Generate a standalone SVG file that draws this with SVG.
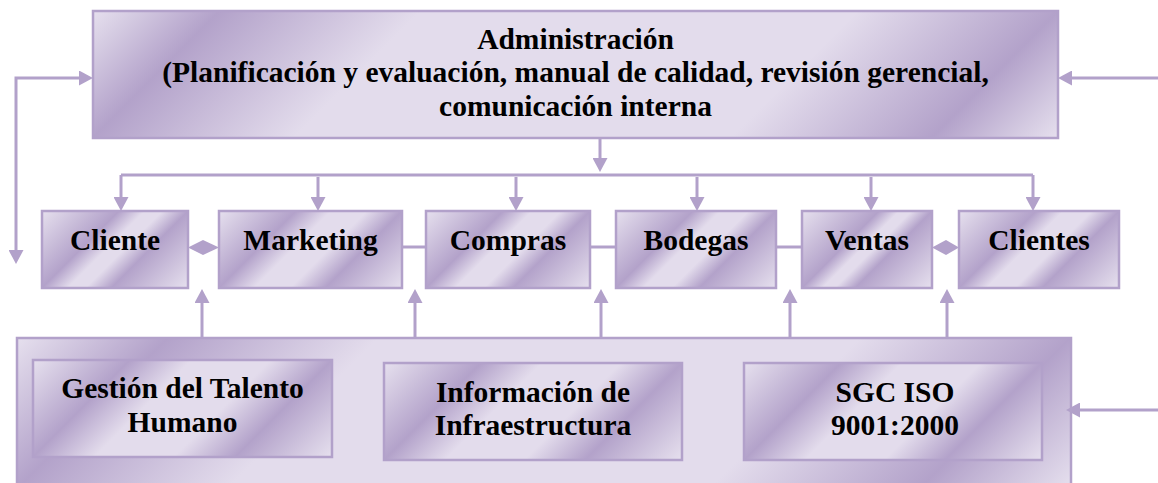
<svg xmlns="http://www.w3.org/2000/svg" width="1158" height="483" viewBox="0 0 1158 483">
<style>
.box{stroke:#b2a1ca;stroke-width:2.5}
.t{font-family:"Liberation Serif","DejaVu Serif","Times New Roman",serif;font-weight:bold;font-size:29.5px;fill:#000;text-anchor:middle}
.c{fill:none;stroke:#b2a1ca;stroke-width:3}
.a{marker-end:url(#ah)}
.d{fill:#b2a1ca}
</style>
<defs>
<marker id="ah" viewBox="0 0 14 15" refX="10" refY="7.5" markerWidth="14" markerHeight="15" markerUnits="userSpaceOnUse" orient="auto-start-reverse"><path d="M0,0 L14,7.5 L0,15 z" fill="#b2a1ca"/></marker>
<linearGradient id="gAdm" gradientUnits="userSpaceOnUse" x1="93" y1="11" x2="639" y2="557"><stop offset="0" stop-color="#e6e0ee"/><stop offset="0.116" stop-color="#b3a2ca"/><stop offset="0.3" stop-color="#e3dcec"/><stop offset="0.7" stop-color="#e3dcec"/><stop offset="0.884" stop-color="#b3a2ca"/><stop offset="1" stop-color="#e6e0ee"/></linearGradient>
<linearGradient id="gOut" gradientUnits="userSpaceOnUse" x1="17" y1="338" x2="619" y2="940"><stop offset="0" stop-color="#e6e0ee"/><stop offset="0.125" stop-color="#b3a2ca"/><stop offset="0.3" stop-color="#e3dcec"/><stop offset="0.7" stop-color="#e3dcec"/><stop offset="0.875" stop-color="#b3a2ca"/><stop offset="1" stop-color="#e6e0ee"/></linearGradient>
<linearGradient id="gCli" gradientUnits="userSpaceOnUse" x1="42" y1="211" x2="153.5" y2="322.5"><stop offset="0" stop-color="#e6e0ee"/><stop offset="0.345" stop-color="#b3a2ca"/><stop offset="0.46" stop-color="#e3dcec"/><stop offset="0.54" stop-color="#e3dcec"/><stop offset="0.655" stop-color="#b3a2ca"/><stop offset="1" stop-color="#e6e0ee"/></linearGradient>
<linearGradient id="gMkt" gradientUnits="userSpaceOnUse" x1="219" y1="211" x2="349" y2="341"><stop offset="0" stop-color="#e6e0ee"/><stop offset="0.296" stop-color="#b3a2ca"/><stop offset="0.43" stop-color="#e3dcec"/><stop offset="0.57" stop-color="#e3dcec"/><stop offset="0.704" stop-color="#b3a2ca"/><stop offset="1" stop-color="#e6e0ee"/></linearGradient>
<linearGradient id="gCom" gradientUnits="userSpaceOnUse" x1="426" y1="211" x2="546.5" y2="331.5"><stop offset="0" stop-color="#e6e0ee"/><stop offset="0.32" stop-color="#b3a2ca"/><stop offset="0.44" stop-color="#e3dcec"/><stop offset="0.56" stop-color="#e3dcec"/><stop offset="0.68" stop-color="#b3a2ca"/><stop offset="1" stop-color="#e6e0ee"/></linearGradient>
<linearGradient id="gBod" gradientUnits="userSpaceOnUse" x1="616" y1="211" x2="734.5" y2="329.5"><stop offset="0" stop-color="#e6e0ee"/><stop offset="0.325" stop-color="#b3a2ca"/><stop offset="0.44" stop-color="#e3dcec"/><stop offset="0.56" stop-color="#e3dcec"/><stop offset="0.675" stop-color="#b3a2ca"/><stop offset="1" stop-color="#e6e0ee"/></linearGradient>
<linearGradient id="gVen" gradientUnits="userSpaceOnUse" x1="802" y1="211" x2="905.5" y2="314.5"><stop offset="0" stop-color="#e6e0ee"/><stop offset="0.372" stop-color="#b3a2ca"/><stop offset="0.47" stop-color="#e3dcec"/><stop offset="0.53" stop-color="#e3dcec"/><stop offset="0.628" stop-color="#b3a2ca"/><stop offset="1" stop-color="#e6e0ee"/></linearGradient>
<linearGradient id="gCls" gradientUnits="userSpaceOnUse" x1="959" y1="211" x2="1077.5" y2="329.5"><stop offset="0" stop-color="#e6e0ee"/><stop offset="0.325" stop-color="#b3a2ca"/><stop offset="0.44" stop-color="#e3dcec"/><stop offset="0.56" stop-color="#e3dcec"/><stop offset="0.675" stop-color="#b3a2ca"/><stop offset="1" stop-color="#e6e0ee"/></linearGradient>
<linearGradient id="gGes" gradientUnits="userSpaceOnUse" x1="33" y1="360" x2="231" y2="558"><stop offset="0" stop-color="#e6e0ee"/><stop offset="0.245" stop-color="#b3a2ca"/><stop offset="0.4" stop-color="#e3dcec"/><stop offset="0.6" stop-color="#e3dcec"/><stop offset="0.755" stop-color="#b3a2ca"/><stop offset="1" stop-color="#e6e0ee"/></linearGradient>
<linearGradient id="gInf" gradientUnits="userSpaceOnUse" x1="384" y1="363" x2="581.5" y2="560.5"><stop offset="0" stop-color="#e6e0ee"/><stop offset="0.246" stop-color="#b3a2ca"/><stop offset="0.4" stop-color="#e3dcec"/><stop offset="0.6" stop-color="#e3dcec"/><stop offset="0.754" stop-color="#b3a2ca"/><stop offset="1" stop-color="#e6e0ee"/></linearGradient>
<linearGradient id="gSgc" gradientUnits="userSpaceOnUse" x1="744" y1="363" x2="941.5" y2="560.5"><stop offset="0" stop-color="#e6e0ee"/><stop offset="0.246" stop-color="#b3a2ca"/><stop offset="0.4" stop-color="#e3dcec"/><stop offset="0.6" stop-color="#e3dcec"/><stop offset="0.754" stop-color="#b3a2ca"/><stop offset="1" stop-color="#e6e0ee"/></linearGradient>
</defs>
<rect width="1158" height="483" fill="#fff"/>

<g id="administracion">
<rect class="box" x="93" y="11" width="965" height="127" fill="url(#gAdm)"/>
<text class="t" x="575.5" y="48.5">Administración</text>
<text class="t" x="575.5" y="82">(Planificación y evaluación, manual de calidad, revisión gerencial,</text>
<text class="t" x="575.5" y="115.5">comunicación interna</text>
</g>

<g id="soporte">
<rect class="box" x="17" y="338" width="1054" height="160" fill="url(#gOut)"/>
</g>

<g id="cliente">
<rect class="box" x="42" y="211" width="146" height="77" fill="url(#gCli)"/>
<text class="t" x="115" y="250">Cliente</text>
</g>
<g id="marketing">
<rect class="box" x="219" y="211" width="183" height="77" fill="url(#gMkt)"/>
<text class="t" x="310.5" y="250">Marketing</text>
</g>
<g id="compras">
<rect class="box" x="426" y="211" width="164" height="77" fill="url(#gCom)"/>
<text class="t" x="508" y="250">Compras</text>
</g>
<g id="bodegas">
<rect class="box" x="616" y="211" width="160" height="77" fill="url(#gBod)"/>
<text class="t" x="696" y="250">Bodegas</text>
</g>
<g id="ventas">
<rect class="box" x="802" y="211" width="130" height="77" fill="url(#gVen)"/>
<text class="t" x="867" y="250">Ventas</text>
</g>
<g id="clientes">
<rect class="box" x="959" y="211" width="160" height="77" fill="url(#gCls)"/>
<text class="t" x="1039" y="250">Clientes</text>
</g>

<g id="talento">
<rect class="box" x="33" y="360" width="299" height="97" fill="url(#gGes)"/>
<text class="t" x="182.5" y="398">Gestión del Talento</text>
<text class="t" x="182.5" y="431.5">Humano</text>
</g>
<g id="infraestructura">
<rect class="box" x="384" y="363" width="298" height="97" fill="url(#gInf)"/>
<text class="t" x="533" y="401.5">Información de</text>
<text class="t" x="533" y="435">Infraestructura</text>
</g>
<g id="sgc">
<rect class="box" x="744" y="363" width="298" height="97" fill="url(#gSgc)"/>
<text class="t" x="895" y="401.5">SGC ISO</text>
<text class="t" x="895" y="435">9001:2000</text>
</g>

<g id="connectors">
<path class="c" d="M89,78 L16,78 L16,260" marker-start="url(#ah)" marker-end="url(#ah)"/>
<path class="c a" d="M1158,78 L1062,78"/>
<path class="c a" d="M1158,410 L1070,410"/>
<path class="c a" d="M600,138 L600,168"/>
<path class="c" d="M121,175 L1033,175"/>
<path class="c a" d="M121,175 L121,207"/>
<path class="c a" d="M318,177 L318,207"/>
<path class="c a" d="M516,177 L516,207"/>
<path class="c a" d="M697,177 L697,207"/>
<path class="c a" d="M871,177 L871,207"/>
<path class="c a" d="M1033,175 L1033,207"/>
<path class="c a" d="M202,338 L202,293"/>
<path class="c a" d="M415,338 L415,293"/>
<path class="c a" d="M601,338 L601,293"/>
<path class="c a" d="M790,338 L790,293"/>
<path class="c a" d="M947,338 L947,293"/>
<path class="c" d="M402,247 L426,247"/>
<path class="c" d="M590,247 L616,247"/>
<path class="c" d="M776,247 L802,247"/>
<polygon class="d" points="188,247.5 203,240 219,247.5 203,255"/>
<polygon class="d" points="932,247.5 946,240 959,247.5 946,255"/>
</g>
</svg>
